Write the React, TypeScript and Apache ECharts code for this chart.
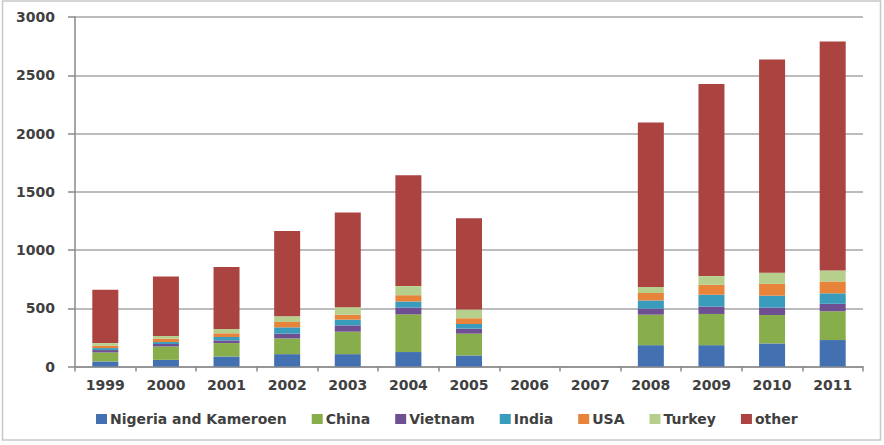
import React, { useEffect, useRef } from "react";
import * as echarts from "echarts";

const years = ["1999", "2000", "2001", "2002", "2003", "2004", "2005", "2006", "2007", "2008", "2009", "2010", "2011"];
const nigeria = [43, 57, 86, 106, 106, 124, 95, null, null, 183, 183, 198, 227];
const china = [78, 115, 115, 135, 193, 324, 187, null, null, 262, 268, 244, 247];
const vietnam = [20, 21, 23, 41, 54, 58, 43, null, null, 52, 64, 64, 64];
const india = [17, 17, 29, 54, 49, 52, 40, null, null, 70, 101, 102, 90];
const usa = [20, 29, 32, 46, 43, 54, 49, null, null, 64, 85, 101, 102];
const turkey = [23, 23, 37, 49, 64, 78, 75, null, null, 52, 75, 96, 93];
const other = [457, 511, 532, 733, 813, 951, 784, null, null, 1412, 1649, 1830, 1967];

const seriesNames = ["Nigeria and Kameroen", "China", "Vietnam", "India", "USA", "Turkey", "other"];
const seriesData = [nigeria, china, vietnam, india, usa, turkey, other];
const colors = ["#4270B0", "#88AE4C", "#6E4F92", "#3A9CBC", "#E8833A", "#B7CF8C", "#AB4340"];

export default function App() {
  const ref = useRef<HTMLDivElement>(null);
  useEffect(() => {
    if (!ref.current) return;
    const chart = echarts.init(ref.current, null, { renderer: "svg" });
    const labelFont = { fontFamily: "DejaVu Sans", fontWeight: "bold" as const, fontSize: 14, color: "#404040" };
    chart.setOption({
      animation: false,
      color: colors,
      graphic: [
        {
          type: "rect",
          shape: { x: 2.5, y: 1, width: 878, height: 439 },
          style: { fill: "none", stroke: "#c8c8c8", lineWidth: 1.5 },
          silent: true,
        },
      ],
      grid: { left: 75, right: 21, top: 17, bottom: 78.5 },
      legend: {
        data: seriesNames,
        top: 407,
        left: 91,
        icon: "rect",
        itemWidth: 11,
        itemHeight: 10,
        itemGap: 25,
        textStyle: { fontFamily: "DejaVu Sans", fontWeight: "bold", fontSize: 14, color: "#404040", padding: [0, 0, 0, -2] },
      },
      xAxis: {
        type: "category",
        data: years,
        axisLine: { lineStyle: { color: "#8a8a8a", width: 1.5 } },
        axisTick: { show: true, length: 5, lineStyle: { color: "#8a8a8a", width: 1.5 } },
        axisLabel: { ...labelFont, margin: 11 },
      },
      yAxis: {
        type: "value",
        min: 0,
        max: 3000,
        interval: 500,
        axisLine: { show: true, lineStyle: { color: "#8a8a8a", width: 1.5 } },
        axisTick: { show: true, length: 7, lineStyle: { color: "#8a8a8a", width: 1.5 } },
        axisLabel: { ...labelFont, margin: 20, formatter: (v: number) => String(v) },
        splitLine: { lineStyle: { color: "#a6a6a6", width: 1.5 } },
      },
      series: seriesNames.map((name, i) => ({
        name,
        type: "bar",
        stack: "total",
        barWidth: 26,
        data: seriesData[i],
        itemStyle: { color: colors[i] },
      })),
    });
    return () => chart.dispose();
  }, []);
  return <div ref={ref} style={{ position: "fixed", left: 0, top: 0, width: 884, height: 445, background: "#fff" }} />;
}
